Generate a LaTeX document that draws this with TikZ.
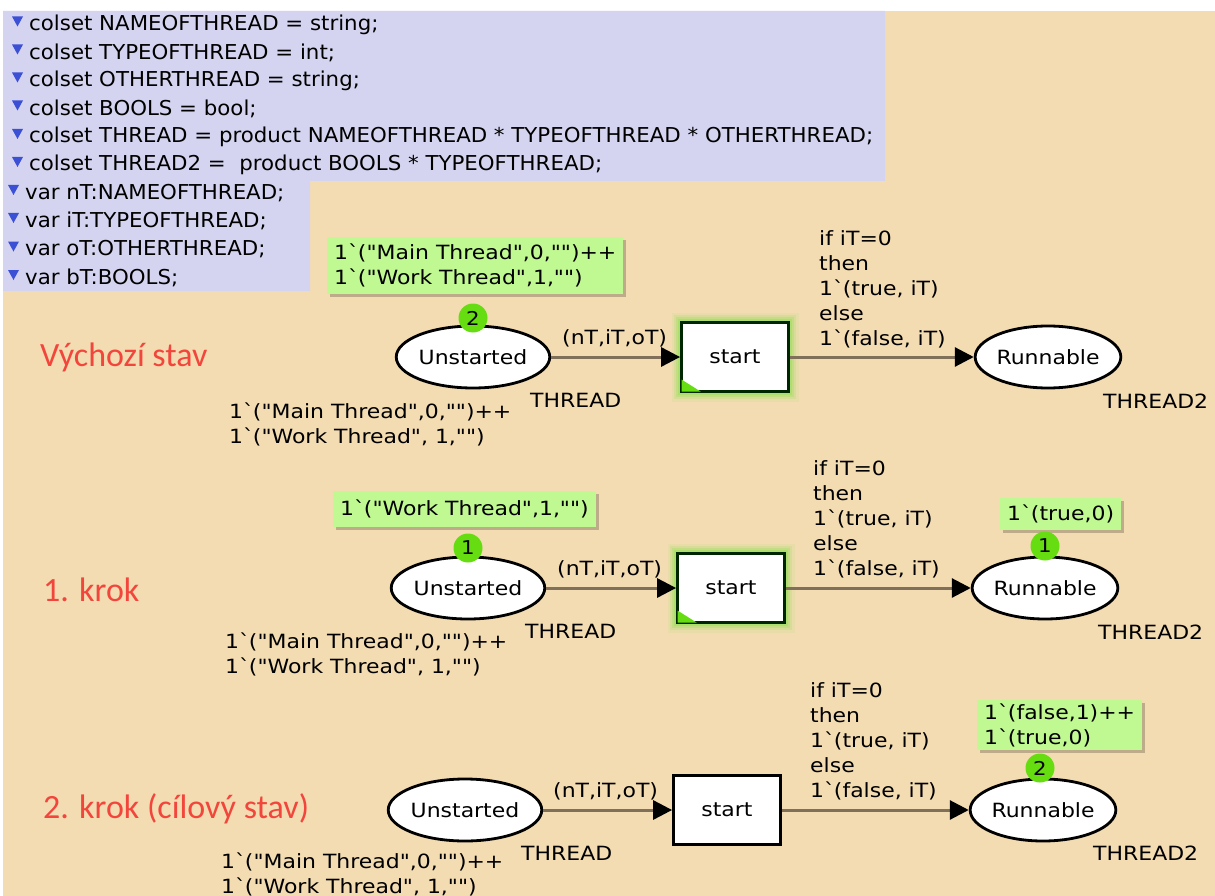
\documentclass[tikz,border=0pt]{standalone}
\usepackage{fontspec}
\usetikzlibrary{shapes.geometric,arrows.meta}
\newfontfamily\declfont{DejaVu Sans}[FakeStretch=1.04]
\newfontfamily\netfont{DejaVu Sans}[FakeStretch=1.12]
\newfontfamily\notefont{Carlito}
\newcommand\bq{\textasciigrave}
\definecolor{pagetan}{HTML}{F3DCB2}
\definecolor{declbg}{HTML}{D4D4F0}
\definecolor{markblue}{HTML}{3C50D6}
\definecolor{tokgreen}{HTML}{C0F891}
\definecolor{tokdot}{HTML}{66DD11}
\definecolor{glowgreen}{HTML}{9EE060}
\definecolor{arccol}{HTML}{80705A}
\definecolor{notered}{HTML}{F2463C}
\begin{document}
\begin{tikzpicture}[x=1pt,y=-1pt,
  decl/.style={anchor=west,inner sep=0,font=\declfont\fontsize{20.5}{28}\selectfont},
  declmark/.style={fill=markblue},
  netf/.style={font=\netfont\fontsize{19.6}{25}\selectfont},
  note/.style={netf,anchor=west,inner sep=0,align=left},
  redlabel/.style={anchor=west,inner sep=0,text=notered,font=\notefont\fontsize{34}{40}\selectfont},
  place/.style={ellipse,draw=black,line width=2.8pt,fill=white,minimum width=142pt,minimum height=62pt,inner sep=0,netf},
  trans/.style={rectangle,draw=black,line width=2.8pt,fill=white,minimum width=107pt,minimum height=69pt,inner sep=0,netf},
  enabled/.style={draw=black!85!green,
    preaction={draw=glowgreen,line width=20pt,opacity=.12},
    preaction={draw=glowgreen,line width=15pt,opacity=.2},
    preaction={draw=glowgreen,line width=11pt,opacity=.35},
    preaction={draw=glowgreen,line width=7pt,opacity=.6}},
  arc/.style={draw=arccol,line width=3pt,-{Triangle[length=19pt,width=19pt,color=black]}},
  tokcount/.style={circle,fill=tokdot,minimum size=29pt,inner sep=0,font=\netfont\fontsize{19}{20}\selectfont},
  tokbox/.style={fill=tokgreen,anchor=north west,inner xsep=7pt,inner ysep=0pt,align=left,netf,
    preaction={fill=black,opacity=.22,transform canvas={shift={(3pt,-3pt)}}}},
  corner/.style={fill=tokdot}
]
\useasboundingbox (0,0) rectangle (1215,896);
% page and declaration panel
\fill[white] (0,0) rectangle (1215,896);
\fill[pagetan] (3,11) rectangle (1215,896);
\fill[declbg] (3,11) -- (885,11) -- (885,181) -- (310,181) -- (310,291) -- (3,291) -- cycle;

% declarations
\foreach \yy/\nm/\txt in {24.5/d1/{colset NAMEOFTHREAD = string;},
  52.5/d2/{colset TYPEOFTHREAD = int;},
  80.5/d3/{colset OTHERTHREAD = string;},
  108.5/d4/{colset BOOLS = bool;},
  137/d5/{colset THREAD = product NAMEOFTHREAD * TYPEOFTHREAD * OTHERTHREAD;},
  165/d6/{colset THREAD2 =\ \ product BOOLS * TYPEOFTHREAD;}}{
  \fill[declmark] (12,\yy-8) -- (23,\yy-8) -- (17.5,\yy+2) -- cycle;
  \node[decl] (\nm) at (29,\yy) {\txt};
}
\foreach \yy/\nm/\txt in {193/d7/{var nT:NAMEOFTHREAD;},
  221/d8/{var iT:TYPEOFTHREAD;},
  249.5/d9/{var oT:OTHERTHREAD;},
  278/d10/{var bT:BOOLS;}}{
  \fill[declmark] (8,\yy-8) -- (19,\yy-8) -- (13.5,\yy+2) -- cycle;
  \node[decl] (\nm) at (25,\yy) {\txt};
}

% ---- initial state
\node[redlabel] (l1) at (40,357) {Výchozí stav};
\node[place] (u1) at (473,357) {Unstarted};
\node[trans,enabled] (t1) at (735,357) {start};
\node[place] (r1) at (1048,357) {Runnable};
\fill[corner] (t1.south west) ++(1.4,-1.4) -- ++(19,0) -- ++(-19,-12) -- cycle;
\node[tokbox,minimum height=57pt] (u1m) at (327,237) {1\bq("Main Thread",0,"")++\\1\bq("Work Thread",1,"")};
\node[tokcount] (u1c) at (473,318) {2};
\node[note] (u1s) at (530,400) {THREAD};
\node[note] (u1i) at (229,424) {1\bq("Main Thread",0,"")++\\1\bq("Work Thread", 1,"")};
\node[note] (r1s) at (1103,401) {THREAD2};
\draw[arc] (u1) -- (t1);
\draw[arc] (t1) -- (r1);
\node[note] (a1in) at (562,338) {(nT,iT,oT)};
\node[note] (a1out) at (819,289) {if iT=0\\then\\1\bq(true, iT)\\else\\1\bq(false, iT)};

% ---- step 1
\node[redlabel] (l2) at (43,590) {1. krok};
\node[place] (u2) at (468,588) {Unstarted};
\node[trans,enabled] (t2) at (731,588) {start};
\node[place] (r2) at (1045,588) {Runnable};
\fill[corner] (t2.south west) ++(1.4,-1.4) -- ++(19,0) -- ++(-19,-12) -- cycle;
\node[tokbox,minimum height=36pt] (u2m) at (333,491) {1\bq("Work Thread",1,"")};
\node[tokcount] (u2c) at (468,548) {1};
\node[tokbox,minimum height=32pt] (r2m) at (1000,498) {1\bq(true,0)};
\node[tokcount] (r2c) at (1045,546) {1};
\node[note] (u2s) at (525,631) {THREAD};
\node[note] (u2i) at (225,654) {1\bq("Main Thread",0,"")++\\1\bq("Work Thread", 1,"")};
\node[note] (r2s) at (1098,632) {THREAD2};
\draw[arc] (u2) -- (t2);
\draw[arc] (t2) -- (r2);
\node[note] (a2in) at (557,569) {(nT,iT,oT)};
\node[note] (a2out) at (813,519) {if iT=0\\then\\1\bq(true, iT)\\else\\1\bq(false, iT)};

% ---- step 2 (target state)
\node[redlabel] (l3) at (43,809) {2. krok (cílový stav)};
\node[place] (u3) at (465,810) {Unstarted};
\node[trans] (t3) at (727,810) {start};
\node[place] (r3) at (1043,810) {Runnable};
\node[tokbox,minimum height=50pt] (r3m) at (977,700) {1\bq(false,1)++\\1\bq(true,0)};
\node[tokcount] (r3c) at (1040,768) {2};
\node[note] (u3s) at (521,853) {THREAD};
\node[note] (u3i) at (221,874) {1\bq("Main Thread",0,"")++\\1\bq("Work Thread", 1,"")};
\node[note] (r3s) at (1093,853) {THREAD2};
\draw[arc] (u3) -- (t3);
\draw[arc] (t3) -- (r3);
\node[note] (a3in) at (553,791) {(nT,iT,oT)};
\node[note] (a3out) at (810,741) {if iT=0\\then\\1\bq(true, iT)\\else\\1\bq(false, iT)};
\end{tikzpicture}
\end{document}
